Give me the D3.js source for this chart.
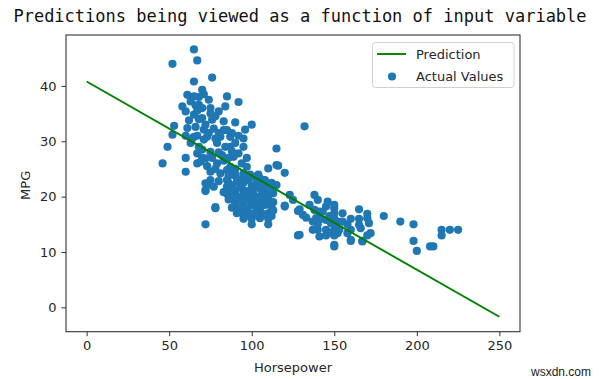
<!DOCTYPE html>
<html>
<head>
<meta charset="utf-8">
<script src="https://cdn.jsdelivr.net/npm/d3@7"></script>
<style>
  html, body { margin: 0; padding: 0; background: #fff; }
  svg { display: block; }
</style>
</head>
<body>
<svg id="chart" width="600" height="379"></svg>
<script>
// ---- data ----
const chartTitle = "Predictions being viewed as a function of input variable";
const xLabel = "Horsepower";
const yLabel = "MPG";
const xTicks = [0, 50, 100, 150, 200, 250];
const yTicks = [0, 10, 20, 30, 40];
const predictionX = [0, 250];
const predictionY = [40.8, -1.7];
// actual values: [horsepower, mpg]
const actualValues = [
  [46,26],[49,29],[52,31.2],[53,32.8],[52,44],[60,27],[60,24.5],[65,46.6],[67,44.6],[76,41.5],
  [65,40.8],[70,39.3],[61,38.4],[65,38.1],[85,38.1],[92,37.1],[58,36.3],[68,36.6],[75,36],[84,36.3],
  [60,35.4],[65,34.8],[80,35.4],[70,34.2],[76,33.9],[83,33.6],[90,33.4],[100,33],[96,32.1],[61,32.4],
  [66,32.6],[71,32.1],[77,32.3],[83,32],[65,30.8],[73,30.8],[81,30.8],[87,30.8],[63,29.7],[71,30.3],
  [79,29.7],[87,29],[90,29.7],[67,27.8],[75,28.1],[82,27.5],[89,27.2],[92,27.8],[69,26.3],[72,26.9],
  [79,26],[87,25.4],[94,26],[97,25.4],[67,26],[75,24.5],[81,24.2],[89,23.9],[95,24.2],[101,23.6],
  [105,23.3],[73,22.1],[77,21.8],[85,21.8],[93,21.8],[101,21.8],[109,21.8],[72,21.2],[89,20.7],[95,20.4],
  [101,20.7],[113,20.6],[72,22.4],[78,17.9],[72,15],[100,15],[110,15],[105,16.4],[110,25.1],[115,25.7],
  [120,24.3],[115,22.1],[120,18.2],[91,22.7],[115,28.7],[116,25.6],[132,32.7],[78,18.1],[72,21],[105,16.1],
  [120,18.4],[128,17.4],[128,13],
  [67,31],[68,34],[70,36],[72,33],[74,31.5],[75,35],[78,30.5],[78,34.5],[80,31.5],[84,29],
  [86,27],[88,28.2],[70,28.5],[68,29],[64,30.5],[62,33.8],[66,36.5],[63,37.2],[68,38],[71,38.5],
  [74,37.5],[67,35.5],[60,31],[70,27],[76,27],[80,28],[85,32],[88,31.5],[92,31],[95,29],
  [97,27],[95,30.5],[83,26.5],[90,25],[85,24.8],[78,25],[73,25.5],[75,23],[80,22.8],[83,20.8],
  [86,22.5],[88,24.5],
  [85,23],[88,22],[90,21],[92,23],[95,22.5],[97,21],[98,19.5],[100,18.5],[102,20],[105,19],
  [107,21],[110,20],[112,18],[88,20],[90,19],[93,18],[95,19],[97,17.5],[100,17],[103,18],
  [105,17.5],[108,18.5],[110,17],[112,16.5],[86,19.5],[95,16],[100,16],[105,21.5],[108,23],[112,22.5],
  [98,23],[100,22],[90,24],[85,20.5],[88,18],[92,20],[96,20.5],[99,24],[103,22.5],[107,19.5],
  [110,16],[113,19],[113,17.5],[97,18],[91,17],[94,21.5],[102,18.8],[95,16.8],[90,18.5],[100,20.5],
  [105,22],[111,21],[95,23.8],[87,21],[93,19.5],[98,16.5],[103,16.8],[106,20.3],[109,19.2],[104,24],
  [92,17.5],[108,16.8],[86,23.8],
  [123,20.3],[125,19.4],[129,17.7],[131,16.7],[133,16.2],[135,18.5],[138,20.3],[140,19.4],[146,19.1],[138,17.6],
  [141,17.3],[150,17.9],[150,17],[155,17],[165,17.7],[170,16.1],[171,15.2],[180,16.5],[139,16.1],[145,15.8],
  [148,15.2],[152,15.5],[140,14],[145,14],[152,13.4],[158,13.4],[129,13.1],[141,12.8],[150,11.3],[160,12.2],
  [167,11.9],[160,14],[166,14.3],[165,14.9],[172,13.4],[143,17.3],[145,18.2],[150,18.5],[150,14],[150,15],
  [150,16],[150,13],[140,15],[145,13],[153,14],[155,15.5],[158,15],[160,16],[148,13.5],[137,15.5],
  [137,14],[142,16],[147,16.5],[170,16.9],[170,13],[165,16],[190,15.5],[198,15],[198,12],[200,10.2],
  [208,11],[210,11],[215,14],[220,14],[225,14],[215,13],[150,11],[160,12],[167,12]
];
const legendLabels = ["Prediction", "Actual Values"];

// ---- layout ----
const svg = d3.select("#chart");
const plot = { left: 66, top: 35, right: 520, bottom: 331.7 };
const x = d3.scaleLinear().domain([-12.5, 262.5]).range([plot.left, plot.right]);
const y = d3.scaleLinear().domain([-4.4, 49.2]).range([plot.bottom, plot.top]);

const textColor = "#262626";
const font = "DejaVu Sans, sans-serif";

// title
svg.append("text")
  .attr("x", 300).attr("y", 22)
  .attr("text-anchor", "middle")
  .attr("font-family", "DejaVu Sans Mono, monospace")
  .attr("font-size", 17)
  .attr("fill", "#111")
  .text(chartTitle);

// scatter
const g = svg.append("g");
g.selectAll("circle.pt").data(actualValues).enter().append("circle")
  .attr("class", "pt")
  .attr("cx", d => x(d[0]))
  .attr("cy", d => y(d[1]))
  .attr("r", 4.1)
  .attr("fill", "#1f77b4");

// prediction line
const lineData = predictionX.map((v, i) => [v, predictionY[i]]);
g.append("path")
  .datum(lineData)
  .attr("d", d3.line().x(d => x(d[0])).y(d => y(d[1])))
  .attr("fill", "none")
  .attr("stroke", "#008000")
  .attr("stroke-width", 1.9);

// axes
const xAxis = svg.append("g")
  .attr("transform", `translate(0,${plot.bottom})`)
  .call(d3.axisBottom(x).tickValues(xTicks).tickSize(4.5).tickPadding(5).tickSizeOuter(0));
const yAxis = svg.append("g")
  .attr("transform", `translate(${plot.left},0)`)
  .call(d3.axisLeft(y).tickValues(yTicks).tickSize(4.5).tickPadding(5).tickSizeOuter(0));
[xAxis, yAxis].forEach(a => {
  a.select(".domain").remove();
  a.selectAll(".tick line").attr("stroke", "#333").attr("stroke-width", 1);
  a.selectAll(".tick text").attr("font-family", font).attr("font-size", 13).attr("fill", textColor);
});

// frame
svg.append("rect")
  .attr("x", plot.left).attr("y", plot.top)
  .attr("width", plot.right - plot.left).attr("height", plot.bottom - plot.top)
  .attr("fill", "none").attr("stroke", "#333").attr("stroke-width", 1.1);

// axis labels
svg.append("text")
  .attr("x", (plot.left + plot.right) / 2).attr("y", 372)
  .attr("text-anchor", "middle")
  .attr("font-family", font).attr("font-size", 13).attr("fill", textColor)
  .text(xLabel);
svg.append("text")
  .attr("transform", `translate(29.5,${(plot.top + plot.bottom) / 2 + 2}) rotate(-90)`)
  .attr("text-anchor", "middle")
  .attr("font-family", font).attr("font-size", 13).attr("fill", textColor)
  .text(yLabel);

// legend
const lg = svg.append("g");
lg.append("rect")
  .attr("x", 372.5).attr("y", 42.5).attr("width", 141.5).attr("height", 45)
  .attr("rx", 3).attr("fill", "#fff").attr("fill-opacity", 0.8)
  .attr("stroke", "#d0d0d0").attr("stroke-width", 1);
lg.append("line")
  .attr("x1", 377).attr("x2", 406).attr("y1", 54).attr("y2", 54)
  .attr("stroke", "#008000").attr("stroke-width", 1.9);
lg.append("circle")
  .attr("cx", 392).attr("cy", 76.5).attr("r", 4.1).attr("fill", "#1f77b4");
lg.selectAll("text.lt").data(legendLabels).enter().append("text")
  .attr("class", "lt")
  .attr("x", 416).attr("y", (d, i) => 58.5 + i * 22.5)
  .attr("font-family", font).attr("font-size", 13).attr("fill", textColor)
  .text(d => d);

// watermark
svg.append("text")
  .attr("x", 531).attr("y", 376)
  .attr("font-family", "Liberation Sans, Arial, sans-serif")
  .attr("font-size", 12).attr("fill", "#222")
  .text("wsxdn.com");
</script>
</body>
</html>
